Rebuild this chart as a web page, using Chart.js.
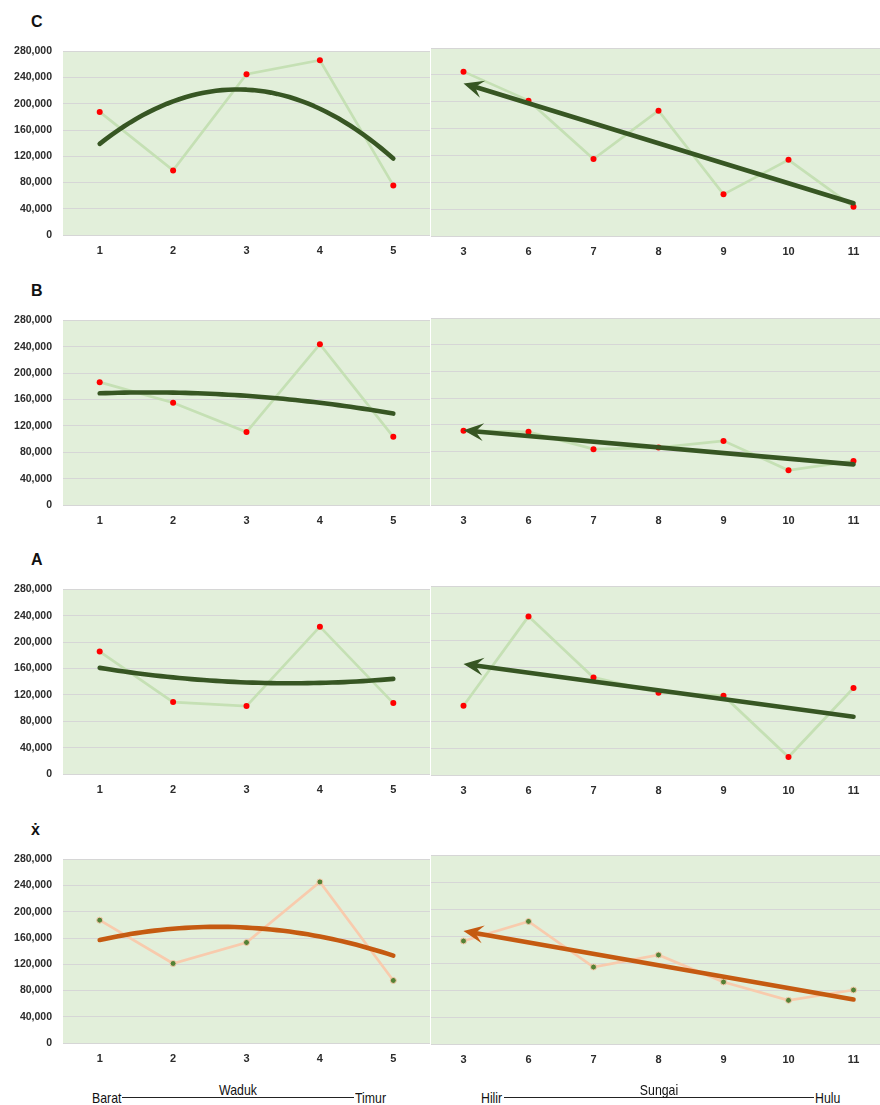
<!DOCTYPE html>
<html>
<head>
<meta charset="utf-8">
<script src="https://cdn.jsdelivr.net/npm/chart.js@4.4.1/dist/chart.umd.min.js"></script>
<style>
  body { margin: 0; width: 880px; height: 1105px; overflow: hidden; position: relative; background: #fff; font-family: 'Liberation Sans', Arial, sans-serif; }
  .panel { position: absolute; }
  .title { position: absolute; font-weight: bold; font-size: 16px; color: #111; }
  .note { position: absolute; font-family: 'Liberation Sans', Arial, sans-serif; font-size: 15px; color: #111; line-height: 1; white-space: nowrap; transform: scaleX(0.82); transform-origin: left center; }
  .note.mid { transform-origin: center center; text-align: center; }
  .rule { position: absolute; height: 1px; background: #222; }
</style>
</head>
<body>
<script>
// categories
const waduk = ['1', '2', '3', '4', '5'];
const sungai = ['3', '6', '7', '8', '9', '10', '11'];
const yTicks = [0, 40000, 80000, 120000, 160000, 200000, 240000, 280000];

// series values
const cWaduk = [187600, 98500, 245000, 266300, 75600];
const cSungai = [244800, 201600, 114500, 186600, 62000, 113400, 43400];
const bWaduk = [186200, 154900, 110500, 243700, 103400];
const bSungai = [111000, 109500, 83600, 86000, 96000, 52000, 66000];
const aWaduk = [185600, 109000, 102900, 223400, 107500];
const aSungai = [102700, 235000, 144600, 122000, 117500, 26700, 128900];
const xWaduk = [187200, 121200, 153200, 245500, 95300];
const xSungai = [152600, 181600, 114000, 131900, 91900, 64700, 80000];

const green = { line: '#C5E0B4', point: '#FF0000', pointBorder: '#FF0000', pointBorderWidth: 0, trend: '#375623' };
const orange = { line: '#F8CBAD', point: '#548235', pointBorder: '#F8CBAD', pointBorderWidth: 1, trend: '#C55A11' };

// plot boxes (top, bottom) of each row
const rows = [
  { title: 'C', left: cWaduk, right: cSungai, theme: green, lt: 51, lb: 235, rt: 47.5, rb: 235 },
  { title: 'B', left: bWaduk, right: bSungai, theme: green, lt: 320, lb: 505, rt: 318, rb: 505 },
  { title: 'A', left: aWaduk, right: aSungai, theme: green, lt: 589, lb: 774, rt: 586, rb: 775 },
  { title: 'ẋ', left: xWaduk, right: xSungai, theme: orange, lt: 859, lb: 1043, rt: 855, rb: 1044 }
];

const FONT = "'Liberation Sans', Arial, sans-serif";

// least squares polynomial fit over category index
function polyfit(ys, order) {
  const n = order + 1;
  const A = [];
  for (let r = 0; r < n; r++) A.push(new Array(n + 1).fill(0));
  ys.forEach((y, x) => {
    for (let r = 0; r < n; r++) {
      for (let c = 0; c < n; c++) A[r][c] += Math.pow(x, r + c);
      A[r][n] += y * Math.pow(x, r);
    }
  });
  for (let i = 0; i < n; i++) {
    for (let k = i + 1; k < n; k++) {
      const f = A[k][i] / A[i][i];
      for (let j = i; j <= n; j++) A[k][j] -= f * A[i][j];
    }
  }
  const coef = new Array(n).fill(0);
  for (let i = n - 1; i >= 0; i--) {
    let s = A[i][n];
    for (let j = i + 1; j < n; j++) s -= A[i][j] * coef[j];
    coef[i] = s / A[i][i];
  }
  return coef;
}

function evalPoly(coef, x) {
  return coef.reduce((s, c, i) => s + c * Math.pow(x, i), 0);
}

const plotBg = {
  id: 'plotBg',
  beforeDraw(chart, args, opts) {
    const a = chart.chartArea;
    chart.ctx.save();
    chart.ctx.fillStyle = opts.color;
    chart.ctx.fillRect(a.left, a.top, a.right - a.left, a.bottom - a.top);
    chart.ctx.restore();
  }
};

const trendPlugin = {
  id: 'trend',
  afterDatasetsDraw(chart, args, opts) {
    const ys = chart.data.datasets[0].data;
    const coef = polyfit(ys, opts.order);
    const xs = chart.scales.x, yS = chart.scales.y;
    const steps = opts.order === 1 ? 1 : 48;
    const pts = [];
    for (let i = 0; i <= steps; i++) {
      const t = (ys.length - 1) * i / steps;
      pts.push([xs.getPixelForValue(t), yS.getPixelForValue(evalPoly(coef, t))]);
    }
    const ctx = chart.ctx;
    ctx.save();
    ctx.strokeStyle = opts.color;
    ctx.fillStyle = opts.color;
    ctx.lineWidth = opts.width;
    ctx.lineCap = 'round';
    ctx.lineJoin = 'round';
    let start = pts[0];
    if (opts.arrow) {
      const [tx, ty] = pts[0];
      let ux = pts[1][0] - tx, uy = pts[1][1] - ty;
      const len = Math.hypot(ux, uy);
      ux /= len; uy /= len;
      const px = -uy, py = ux;
      const L = 20, W = 9, N = 12;
      ctx.beginPath();
      ctx.moveTo(tx, ty);
      ctx.lineTo(tx + ux * L + px * W, ty + uy * L + py * W);
      ctx.lineTo(tx + ux * N, ty + uy * N);
      ctx.lineTo(tx + ux * L - px * W, ty + uy * L - py * W);
      ctx.closePath();
      ctx.fill();
      start = [tx + ux * (N - 2), ty + uy * (N - 2)];
    }
    ctx.beginPath();
    ctx.moveTo(start[0], start[1]);
    for (let i = 1; i < pts.length; i++) ctx.lineTo(pts[i][0], pts[i][1]);
    ctx.stroke();
    ctx.restore();
  }
};

function chartConfig(labels, values, theme, isLeft) {
  return {
    type: 'line',
    data: {
      labels: labels,
      datasets: [{
        data: values,
        borderColor: theme.line,
        borderWidth: 2.7,
        pointRadius: 3,
        pointBackgroundColor: theme.point,
        pointBorderColor: theme.pointBorder,
        pointBorderWidth: theme.pointBorderWidth,
        tension: 0,
        fill: false
      }]
    },
    options: {
      responsive: false,
      maintainAspectRatio: false,
      animation: false,
      devicePixelRatio: 1,
      layout: { padding: { top: 14, left: 0, right: 0, bottom: 0 } },
      plugins: {
        legend: { display: false },
        tooltip: { enabled: false },
        plotBg: { color: '#E2EFDA' },
        trend: { order: isLeft ? 2 : 1, color: theme.trend, width: 4.6, arrow: !isLeft }
      },
      scales: {
        x: {
          offset: true,
          grid: { display: false, drawTicks: false },
          border: { display: false },
          ticks: { color: '#2b2b2b', font: { family: FONT, size: 11, weight: 'bold' }, padding: 9, maxRotation: 0 },
          afterFit(s) { s.height = 26; }
        },
        y: {
          min: 0,
          max: 280000,
          afterBuildTicks(s) { s.ticks = yTicks.map(v => ({ value: v })); },
          grid: { color: '#D6D6D6', lineWidth: 1, drawTicks: false },
          border: { display: false },
          ticks: {
            display: isLeft,
            color: '#2b2b2b',
            font: { family: FONT, size: 10.5, weight: 'bold' },
            padding: 11,
            callback: v => v.toLocaleString('en-US')
          },
          afterFit(s) { s.width = isLeft ? 63 : 0; }
        }
      }
    },
    plugins: [plotBg, trendPlugin]
  };
}

// builds a panel, then rebuilds it so that its plot area lands on the wanted box
function makePanel(labels, values, theme, isLeft, box) {
  const div = document.createElement('div');
  div.className = 'panel';
  const canvas = document.createElement('canvas');
  div.appendChild(canvas);
  document.body.appendChild(div);
  const setSize = (w, h) => {
    canvas.width = w; canvas.height = h;
    canvas.style.width = w + 'px'; canvas.style.height = h + 'px';
  };
  let w = Math.round(box.r - box.l) + (isLeft ? 63 : 0) + 20;
  let h = Math.round(box.b - box.t) + 40;
  setSize(w, h);
  let chart = new Chart(canvas, chartConfig(labels, values, theme, isLeft));
  let ca = chart.chartArea;
  w = Math.round(w + (box.r - box.l) - (ca.right - ca.left));
  h = Math.round(h + (box.b - box.t) - (ca.bottom - ca.top));
  chart.destroy();
  setSize(w, h);
  chart = new Chart(canvas, chartConfig(labels, values, theme, isLeft));
  ca = chart.chartArea;
  div.style.left = (box.l - ca.left) + 'px';
  div.style.top = (box.t - ca.top) + 'px';
}

rows.forEach(r => {
  const t = document.createElement('div');
  t.className = 'title';
  t.textContent = r.title;
  t.style.left = '31px';
  t.style.top = (r.lt - 38) + 'px';
  document.body.appendChild(t);
  makePanel(waduk, r.left, r.theme, true, { l: 63, r: 430, t: r.lt, b: r.lb });
  makePanel(sungai, r.right, r.theme, false, { l: 431, r: 886, t: r.rt, b: r.rb });
});

function note(text, x, y, center) {
  const d = document.createElement('div');
  d.className = center ? 'note mid' : 'note';
  d.textContent = text;
  d.style.top = y + 'px';
  if (center) { d.style.left = (x - 100) + 'px'; d.style.width = '200px'; }
  else d.style.left = x + 'px';
  document.body.appendChild(d);
}
function rule(x1, x2, y) {
  const d = document.createElement('div');
  d.className = 'rule';
  d.style.left = x1 + 'px';
  d.style.width = (x2 - x1) + 'px';
  d.style.top = y + 'px';
  document.body.appendChild(d);
}
note('Barat', 92, 1090, false);
rule(122, 354, 1097);
note('Timur', 355, 1090, false);
note('Waduk', 238, 1082, true);
note('Hilir', 481, 1090, false);
rule(504, 814, 1097);
note('Hulu', 815, 1090, false);
note('Sungai', 659, 1082, true);
</script>
</body>
</html>
